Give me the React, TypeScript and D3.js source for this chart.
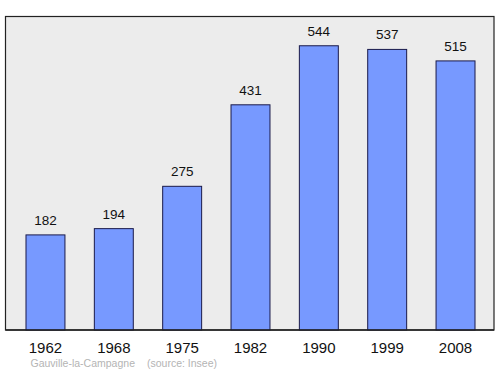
import React from "react";
import * as d3 from "d3";

const years = ["1962", "1968", "1975", "1982", "1990", "1999", "2008"];
const population = [182, 194, 275, 431, 544, 537, 515];
const caption = "Gauville-la-Campagne";
const source = "(source: Insee)";

export default function App() {
  const W = 500, H = 374;
  const x = d3.scaleBand<string>().domain(years).range([11.3, 489.7]).paddingInner(0.43).paddingOuter(0.215);
  const y = d3.scaleLinear().domain([0, 600]).range([330, 16.5]);
  const font = "'Liberation Sans', Arial, sans-serif";
  return (
    <svg width={W} height={H} style={{ position: "absolute", left: 0, top: 0 }} fontFamily={font}>
      <rect x={5.5} y={16.5} width={488.5} height={313.5} fill="#ececec" stroke="#222" strokeWidth={1.2} />
      {years.map((yr, i) => {
        const v = population[i];
        const bx = x(yr)!;
        return (
          <g key={yr}>
            <rect x={bx} y={y(v)} width={x.bandwidth()} height={330 - y(v)} fill="#7799ff" stroke="#1a1a4a" strokeWidth={1} />
            <text x={bx + x.bandwidth() / 2} y={y(v) - 10} textAnchor="middle" fontSize={13.5} fill="#111">{v}</text>
            <text x={bx + x.bandwidth() / 2} y={353} textAnchor="middle" fontSize={15} fill="#111">{yr}</text>
          </g>
        );
      })}
      <line x1={5.5} x2={494} y1={330} y2={330} stroke="#222" strokeWidth={1.5} />
      <text x={30.5} y={367} fontSize={10.5} fill="#b4b4b4">{caption}</text>
      <text x={147} y={367} fontSize={10.5} fill="#b4b4b4">{source}</text>
    </svg>
  );
}
